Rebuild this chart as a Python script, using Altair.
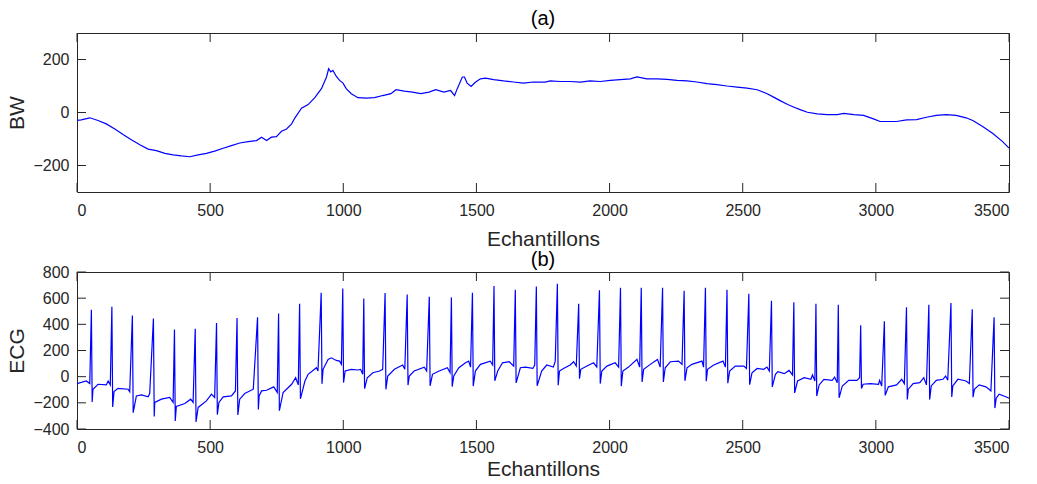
import altair as alt
import pandas as pd

# ---------------- data ----------------
X_TICKS = [0, 500, 1000, 1500, 2000, 2500, 3000, 3500]
BW_TICKS = [-200, 0, 200]
ECG_TICKS = [-400, -200, 0, 200, 400, 600, 800]

# (a) baseline wander
BW_X = [0, 16, 48, 79, 110, 142, 173, 204, 236, 267, 298, 330, 361, 392, 424,
        455, 486, 517, 549, 580, 611, 643, 674, 693, 712, 730, 749, 768, 787,
        806, 818, 843, 868, 893, 918, 937, 945, 953, 961, 974, 986, 999, 1011,
        1030, 1055, 1086, 1117, 1148, 1179, 1198, 1229, 1260, 1291, 1322, 1347,
        1378, 1403, 1418, 1428, 1447, 1455, 1465, 1480, 1496, 1515, 1534, 1565,
        1602, 1639, 1677, 1714, 1758, 1777, 1815, 1852, 1890, 1927, 1965, 2003,
        2040, 2078, 2103, 2140, 2178, 2216, 2253, 2291, 2328, 2366, 2403, 2441,
        2479, 2516, 2554, 2592, 2616, 2644, 2669, 2693, 2718, 2743, 2780, 2817,
        2855, 2880, 2917, 2954, 2991, 3016, 3053, 3078, 3115, 3153, 3190, 3227,
        3264, 3301, 3339, 3364, 3401, 3438, 3475, 3500]
BW_Y = [-30, -28, -20, -30, -43, -62, -83, -103, -122, -138, -144, -154, -160,
        -164, -167, -160, -154, -146, -135, -125, -115, -110, -106, -93, -106,
        -93, -91, -71, -62, -43, -21, 16, 30, 56, 90, 134, 165, 153, 159, 136,
        121, 111, 90, 71, 56, 54, 56, 64, 71, 86, 81, 77, 71, 77, 86, 77, 83,
        64, 90, 134, 134, 111, 98, 114, 127, 130, 124, 119, 115, 111, 115, 115,
        119, 117, 117, 115, 119, 117, 121, 124, 127, 134, 127, 127, 125, 121,
        119, 115, 109, 105, 100, 96, 92, 86, 71, 58, 43, 30, 20, 10, 1, -5, -8,
        -8, -3, -8, -11, -24, -34, -34, -34, -28, -27, -18, -11, -8, -11, -20,
        -30, -53, -78, -109, -134]

# (b) ECG: level between the beats
ECG_BASE_X = [0, 35, 48, 60, 79, 110, 117, 125, 139, 154, 192, 198, 223, 242,
              267, 273, 292, 317, 348, 361, 373, 405, 427, 436, 455, 486, 505,
              517, 533, 549, 580, 595, 611, 630, 662, 684, 693, 712, 739, 752,
              774, 806, 821, 831, 856, 868, 899, 905, 924, 943, 955, 974, 986,
              993, 1007, 1030, 1055, 1065, 1073, 1090, 1111, 1136, 1148, 1167,
              1192, 1223, 1231, 1248, 1266, 1304, 1313, 1335, 1360, 1391, 1401,
              1415, 1434, 1459, 1471, 1478, 1496, 1515, 1552, 1561, 1580, 1598,
              1623, 1640, 1665, 1684, 1712, 1719, 1745, 1764, 1789, 1796, 1812,
              1827, 1852, 1865, 1875, 1892, 1915, 1940, 1952, 1971, 1990, 2021,
              2034, 2050, 2071, 2103, 2113, 2128, 2153, 2180, 2190, 2209, 2228,
              2259, 2272, 2291, 2309, 2347, 2353, 2368, 2391, 2426, 2435, 2451,
              2472, 2504, 2514, 2535, 2554, 2579, 2591, 2600, 2623, 2632, 2656,
              2674, 2687, 2706, 2731, 2756, 2762, 2771, 2787, 2805, 2836, 2845,
              2855, 2874, 2898, 2929, 2939, 2952, 2979, 3010, 3014, 3022, 3047,
              3078, 3097, 3107, 3122, 3140, 3165, 3180, 3190, 3208, 3227, 3252,
              3262, 3270, 3289, 3308, 3339, 3351, 3370, 3388, 3413, 3425, 3432,
              3452, 3463, 3488, 3500]
ECG_BASE_Y = [-53, -33, -53, -96, -58, -63, -33, -63, -114, -89, -96, -116,
              -147, -139, -154, -129, -197, -172, -159, -197, -228, -205, -172,
              -197, -235, -185, -134, -159, -197, -154, -147, -109, -172, -129,
              -96, -147, -109, -104, -78, -121, -121, -58, -8, -63, -33, 18, 68,
              43, 56, 132, 144, 124, 119, 94, 43, 56, 51, 56, 18, -8, 30, 43, 56,
              5, 56, 89, 56, 5, 43, 73, 43, 18, 43, 68, 30, 5, 68, 106, 119, 73,
              43, 94, 119, 89, 43, 106, 114, 81, 68, 73, 63, 89, 43, 89, 73, 119,
              43, 63, 89, 114, 81, 56, 81, 106, 73, 43, 81, 106, 73, 43, 73, 132,
              73, 56, 94, 132, 73, 68, 114, 119, 94, 68, 94, 119, 73, 56, 89, 119,
              73, 43, 81, 81, 63, 30, 63, 56, 73, 43, 18, 38, 23, 48, 13, -33, -8,
              -20, 13, -33, -63, -20, -28, -3, -46, -71, -28, -28, -8, -58, -53,
              -58, -28, -71, -78, -63, -20, -53, -96, -53, -46, -8, -63, -71, -28,
              -20, 5, -28, -71, -20, -33, -53, -96, -63, -78, -96, -109, -164,
              -134, -154, -164]

# (b) ECG: beats (sample index, R peak, S trough)
BEAT_X = [54, 131, 208, 287, 366, 444, 524, 601, 678, 757, 836, 917, 998, 1077,
          1157, 1240, 1323, 1406, 1485, 1566, 1646, 1725, 1804, 1884, 1962,
          2041, 2119, 2199, 2280, 2360, 2441, 2523, 2608, 2692, 2775, 2859,
          2943, 3032, 3115, 3199, 3282, 3362, 3444]
BEAT_R = [512, 534, 467, 444, 361, 366, 411, 449, 454, 483, 557, 642, 673, 597,
          639, 628, 610, 606, 642, 693, 664, 689, 711, 558, 660, 680, 680, 680,
          657, 680, 665, 634, 581, 568, 558, 550, 392, 423, 530, 550, 563, 515,
          454]
BEAT_S = [-193, -231, -275, -305, -338, -346, -290, -293, -250, -260, -169, -55,
          -45, -92, -97, -64, -70, -76, -72, -32, -48, -70, -66, -15, -53, -72,
          -40, -40, -32, -35, -50, -61, -78, -124, -148, -162, -90, -143, -175,
          -175, -155, -157, -240]

# ---------------- tables ----------------
bw_df = pd.DataFrame({"x": BW_X, "y": BW_Y})
pts = list(zip(ECG_BASE_X, ECG_BASE_Y))
for bx, r, s in zip(BEAT_X, BEAT_R, BEAT_S):
    pts.append((bx, r))
    pts.append((bx + 3, s))
pts.sort()
ecg_df = pd.DataFrame(pts, columns=["x", "y"])

FONT = "Liberation Sans"
INK = "#262626"
TICK = 9
W = 932


def panel(df, ytitle, ydomain, yticks, title, h, xtitle_pad, title_offset):
    xs = alt.Scale(domain=[0, 3500], nice=False, zero=False)
    ys = alt.Scale(domain=ydomain, nice=False, zero=False)
    main = alt.Chart(df).mark_line(color="#0000FF", strokeWidth=1.2, clip=True).encode(
        x=alt.X("x:Q", scale=xs,
                axis=alt.Axis(values=X_TICKS, orient="bottom", tickSize=0,
                              domain=False, grid=False, labelPadding=10,
                              title="Echantillons", titlePadding=xtitle_pad,
                              format="d")),
        y=alt.Y("y:Q", scale=ys,
                axis=alt.Axis(values=yticks, orient="left", tickSize=0,
                              domain=False, grid=False, labelPadding=8,
                              title=ytitle, titlePadding=5, format="d")),
    )
    xt = alt.Chart(pd.DataFrame({"v": X_TICKS})).mark_rule(color=INK, strokeWidth=1)
    yt = alt.Chart(pd.DataFrame({"v": yticks})).mark_rule(color=INK, strokeWidth=1)
    xb = xt.encode(x=alt.X("v:Q", scale=xs, axis=None),
                   y=alt.value(h - TICK), y2=alt.value(h))
    xtop = xt.encode(x=alt.X("v:Q", scale=xs, axis=None),
                     y=alt.value(0), y2=alt.value(TICK))
    yl = yt.encode(y=alt.Y("v:Q", scale=ys, axis=None),
                   x=alt.value(0), x2=alt.value(TICK))
    yr = yt.encode(y=alt.Y("v:Q", scale=ys, axis=None),
                   x=alt.value(W - TICK), x2=alt.value(W))
    return alt.layer(main, xb, xtop, yl, yr).resolve_axis(
        x="independent", y="independent"
    ).properties(
        width=W, height=h,
        title=alt.TitleParams(title, fontSize=20, font=FONT, fontWeight="normal",
                              color="#000000", offset=title_offset, frame="group"),
    )


top = panel(bw_df, "BW", [-300, 300], BW_TICKS, "(a)", 159, 10, 4)
bottom = panel(ecg_df, "ECG", [-400, 800], ECG_TICKS, "(b)", 157, 3, -6)

chart = alt.vconcat(top, bottom, spacing=80, bounds="flush").properties(
    padding={"left": 6, "top": 8, "right": 5, "bottom": 2},
    background="white",
).configure_view(
    stroke=INK, strokeWidth=1
).configure_axis(
    labelFont=FONT, labelFontSize=16, labelColor=INK,
    titleFont=FONT, titleFontSize=21, titleFontWeight="normal", titleColor=INK,
    tickColor=INK, tickWidth=1
)

chart.save("out.html", embed_options={"renderer": "svg", "actions": False})
